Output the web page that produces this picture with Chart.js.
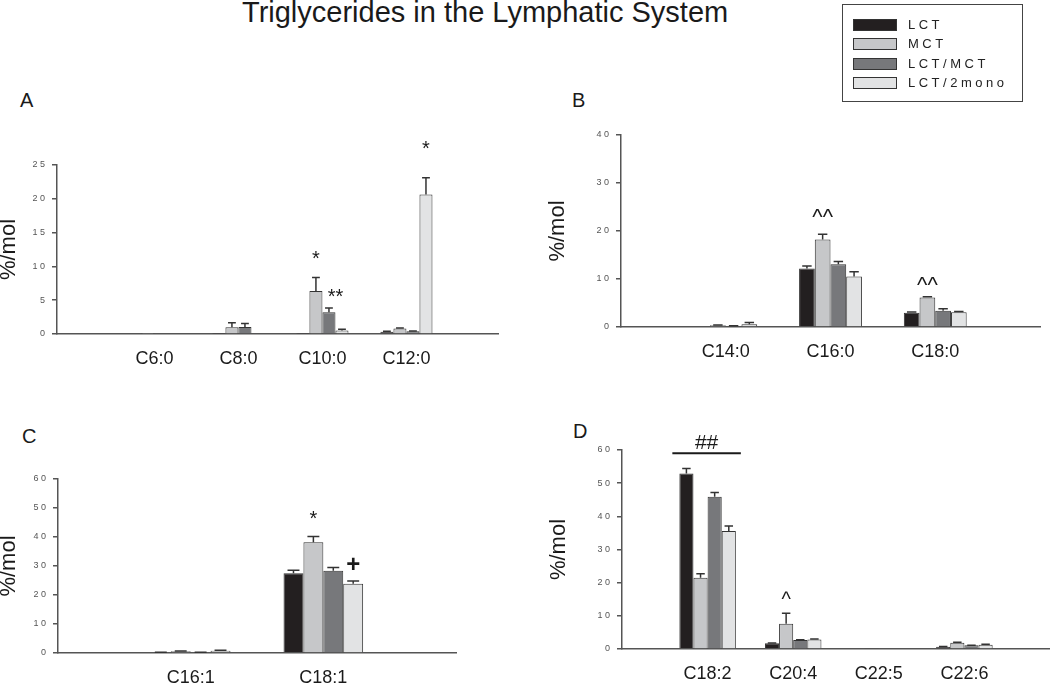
<!DOCTYPE html>
<html>
<head>
<meta charset="utf-8">
<script src="https://cdn.jsdelivr.net/npm/chart.js@4.4.1/dist/chart.umd.min.js"></script>
<style>
  body { margin: 0; background: #fff; font-family: "Liberation Sans", Arial, sans-serif; }
  #page { position: relative; width: 1050px; height: 685px; overflow: hidden; }
  canvas { position: absolute; }
  .txt { position: absolute; color: #1a1a1a; white-space: nowrap; }
  .panel { font-size: 20px; line-height: 20px; }
  #legend { position: absolute; left: 842px; top: 4px; width: 181px; height: 98px; box-sizing: border-box; border: 1.5px solid #444; }
  .sw { position: absolute; left: 10px; width: 44px; height: 12px; box-sizing: border-box; border: 1.5px solid #333; }
  .lt { position: absolute; left: 65px; font-size: 13px; line-height: 13px; letter-spacing: 3.5px; color: #222; }
</style>
</head>
<body>
<div id="page">
  <div class="txt" style="left:242px;top:-2px;font-size:29px;line-height:29px;">Triglycerides in the Lymphatic System</div>
  <div class="txt panel" style="left:20px;top:90px;">A</div>
  <div class="txt panel" style="left:572px;top:90px;">B</div>
  <div class="txt panel" style="left:22px;top:426px;">C</div>
  <div class="txt panel" style="left:573px;top:421px;">D</div>

  <canvas id="chartA" width="520" height="260" style="left:0;top:120px;"></canvas>
  <canvas id="chartB" width="510" height="270" style="left:540px;top:90px;"></canvas>
  <canvas id="chartC" width="520" height="265" style="left:0;top:420px;"></canvas>
  <canvas id="chartD" width="510" height="285" style="left:540px;top:400px;"></canvas>

  <div id="legend"></div>
</div>

<script>
const seriesNames = ["LCT", "MCT", "LCT/MCT", "LCT/2mono"];
const fills = ["#231f20", "#c6c7c9", "#77787b", "#e2e3e4"];

// A - medium chain
const catsA = ["C6:0", "C8:0", "C10:0", "C12:0"];
const lctA = [0.1, 0.05, 0.05, 0.35];
const mctA = [0.05, 1.0, 6.35, 0.8];
const lctMctA = [0, 1.05, 3.2, 0.4];
const monoA = [0, 0, 0.5, 20.65];
const lctAErr = [0, 0, 0, 0.05];
const mctAErr = [0, 0.65, 2.0, 0.1];
const lctMctAErr = [0, 0.5, 0.65, 0.05];
const monoAErr = [0, 0, 0.2, 2.45];
const marksA = [
  { cat: 2, s: [1], text: "*", y: 11.7 },
  { cat: 2, s: [2, 3], text: "**", y: 6.1 },
  { cat: 3, s: [3], text: "*", y: 28.0 }
];

// B - saturated long chain
const catsB = ["C14:0", "C16:0", "C18:0"];
const lctB = [0.15, 12.2, 2.95];
const mctB = [0.35, 18.25, 6.15];
const lctMctB = [0.2, 13.05, 3.4];
const monoB = [0.55, 10.5, 3.05];
const lctBErr = [0, 0.5, 0.15];
const mctBErr = [0.05, 1.05, 0.15];
const lctMctBErr = [0.05, 0.6, 0.4];
const monoBErr = [0.4, 1.0, 0.2];
const marksB = [
  { cat: 1, s: [1], text: "^^", y: 23.75 },
  { cat: 2, s: [1], text: "^^", y: 9.6 }
];

// C - monounsaturated
const catsC = ["C16:1", "C18:1"];
const lctC = [0.25, 27.5];
const mctC = [0.6, 38.2];
const lctMctC = [0.25, 28.4];
const monoC = [0.8, 23.9];
const lctCErr = [0.05, 1.0];
const mctCErr = [0.1, 2.0];
const lctMctCErr = [0.05, 1.1];
const monoCErr = [0.15, 0.9];
const marksC = [
  { cat: 1, s: [1], text: "*", y: 47.6 },
  { cat: 1, s: [3], text: "+", y: 30.7 }
];

// D - polyunsaturated
const catsD = ["C18:2", "C20:4", "C22:5", "C22:6"];
const lctD = [52.9, 1.7, 0.2, 0.7];
const mctD = [21.5, 7.6, 0.3, 1.9];
const lctMctD = [45.9, 2.7, 0.2, 1.1];
const monoD = [35.6, 2.9, 0.2, 1.3];
const lctDErr = [1.5, 0.1, 0, 0.05];
const mctDErr = [1.2, 3.2, 0, 0.15];
const lctMctDErr = [1.3, 0.1, 0, 0.05];
const monoDErr = [1.5, 0.1, 0, 0.1];
const marksD = [
  { cat: 0, text: "##", y: 62.4, line: 59 },
  { cat: 1, s: [1], text: "^", y: 16.3 }
];

const FONT = '"Liberation Sans", Arial, sans-serif';
const markFont = {
  "*": "20px " + FONT,
  "**": "20px " + FONT,
  "^^": "22px " + FONT,
  "^": "20px " + FONT,
  "+": "bold 24px " + FONT,
  "##": "21px " + FONT
};

Chart.defaults.font.family = FONT;

// legend
const legend = document.getElementById("legend");
seriesNames.forEach((name, i) => {
  const cy = 20 + i * 19.3;
  const sw = document.createElement("div");
  sw.className = "sw";
  sw.style.top = (cy - 6) + "px";
  sw.style.background = fills[i];
  const t = document.createElement("div");
  t.className = "lt";
  t.style.top = (cy - 7) + "px";
  t.textContent = name;
  legend.appendChild(sw);
  legend.appendChild(t);
});

const errorBars = {
  id: "errorBars",
  afterDatasetsDraw(chart) {
    const ctx = chart.ctx, y = chart.scales.y;
    ctx.save();
    ctx.strokeStyle = "#333";
    ctx.lineWidth = 1.5;
    chart.data.datasets.forEach((ds, i) => {
      chart.getDatasetMeta(i).data.forEach((bar, j) => {
        const err = ds.errors[j];
        if (!err) return;
        const top = y.getPixelForValue(ds.data[j].y + err);
        const half = bar.width * 0.3;
        ctx.beginPath();
        ctx.moveTo(bar.x, bar.y);
        ctx.lineTo(bar.x, top);
        ctx.moveTo(bar.x - half, top);
        ctx.lineTo(bar.x + half, top);
        ctx.stroke();
      });
    });
    ctx.restore();
  }
};

const sigMarks = {
  id: "sigMarks",
  afterDatasetsDraw(chart, args, opts) {
    const ctx = chart.ctx, y = chart.scales.y;
    const n = chart.data.datasets.length;
    ctx.save();
    ctx.fillStyle = "#1a1a1a";
    ctx.strokeStyle = "#1a1a1a";
    ctx.textAlign = "center";
    ctx.textBaseline = "alphabetic";
    (opts.items || []).forEach(m => {
      let x;
      if (m.s !== undefined) {
        const xs = m.s.map(s => chart.getDatasetMeta(s).data[m.cat].x);
        x = xs.reduce((a, b) => a + b, 0) / xs.length;
      } else {
        const first = chart.getDatasetMeta(0).data[m.cat];
        const last = chart.getDatasetMeta(n - 1).data[m.cat];
        const left = first.x - first.width / 2 - 7;
        const right = last.x + last.width / 2 + 5;
        x = (left + right) / 2;
        if (m.line !== undefined) {
          const ly = y.getPixelForValue(m.line);
          ctx.lineWidth = 2;
          ctx.beginPath();
          ctx.moveTo(left, ly);
          ctx.lineTo(right, ly);
          ctx.stroke();
        }
      }
      ctx.font = markFont[m.text];
      const mt = ctx.measureText(m.text);
      const cy = y.getPixelForValue(m.y);
      ctx.fillText(m.text, x, cy + (mt.actualBoundingBoxAscent - mt.actualBoundingBoxDescent) / 2);
    });
    ctx.restore();
  }
};

function makeChart(id, cats, values, errors, marks, cfg) {
  const datasets = seriesNames.map((name, i) => ({
    label: name,
    data: values[i].map((v, j) => ({ x: j + 1, y: v })),
    errors: errors[i],
    backgroundColor: fills[i],
    borderColor: "#333",
    borderWidth: 1,
    barPercentage: 1,
    categoryPercentage: cfg.catPct
  }));

  new Chart(document.getElementById(id), {
    type: "bar",
    data: { datasets },
    plugins: [errorBars, sigMarks],
    options: {
      responsive: false,
      animation: false,
      devicePixelRatio: 1,
      layout: { padding: { top: cfg.top, right: cfg.right, bottom: 0, left: 0 } },
      plugins: {
        legend: { display: false },
        tooltip: { enabled: false },
        sigMarks: { items: marks }
      },
      scales: {
        x: {
          type: "linear",
          min: cfg.xMin,
          max: cfg.xMax,
          offset: false,
          grid: { display: false, drawTicks: false },
          border: { color: "#555", width: 1.5 },
          ticks: {
            autoSkip: false,
            maxRotation: 0,
            padding: 14,
            color: "#1a1a1a",
            font: { size: 18 },
            callback: v => cats[v - 1] || ""
          },
          afterBuildTicks: s => { s.ticks = cats.map((c, i) => ({ value: i + 1 })); },
          afterFit: s => { s.height = cfg.xHeight; }
        },
        y: {
          min: 0,
          max: cfg.yMax,
          grid: { drawOnChartArea: false, drawTicks: true, tickLength: 5, color: "#555", lineWidth: 1.5 },
          border: { color: "#555", width: 1.5 },
          ticks: {
            stepSize: cfg.step,
            padding: 7,
            color: "#555",
            font: { size: 9 },
            callback: v => String(v).split("").join(" ")
          },
          title: {
            display: true,
            text: "%/mol",
            color: "#1a1a1a",
            font: { size: 22 },
            padding: { top: cfg.titlePad, bottom: 0 }
          },
          afterFit: s => { s.width = cfg.yWidth; }
        }
      }
    }
  });
}

makeChart("chartA", catsA,
  [lctA, mctA, lctMctA, monoA],
  [lctAErr, mctAErr, lctMctAErr, monoAErr],
  marksA,
  { xMin: -0.16, xMax: 5.09, yMax: 25, step: 5, yWidth: 57, xHeight: 46, top: 45, right: 22, titlePad: -4, catPct: 0.62 });

makeChart("chartB", catsB,
  [lctB, mctB, lctMctB, monoB],
  [lctBErr, mctBErr, lctMctBErr, monoBErr],
  marksB,
  { xMin: 0, xMax: 4, yMax: 40, step: 10, yWidth: 81, xHeight: 33, top: 45, right: 10, titlePad: 5, catPct: 0.6 });

makeChart("chartC", catsC,
  [lctC, mctC, lctMctC, monoC],
  [lctCErr, mctCErr, lctMctCErr, monoCErr],
  marksC,
  { xMin: 0, xMax: 3, yMax: 60, step: 10, yWidth: 58, xHeight: 32, top: 59, right: 64, titlePad: -4, catPct: 0.6 });

makeChart("chartD", catsD,
  [lctD, mctD, lctMctD, monoD],
  [lctDErr, mctDErr, lctMctDErr, monoDErr],
  marksD,
  { xMin: 0, xMax: 5, yMax: 60, step: 10, yWidth: 82, xHeight: 36, top: 50, right: 0, titlePad: 6, catPct: 0.66 });
</script>
</body>
</html>
